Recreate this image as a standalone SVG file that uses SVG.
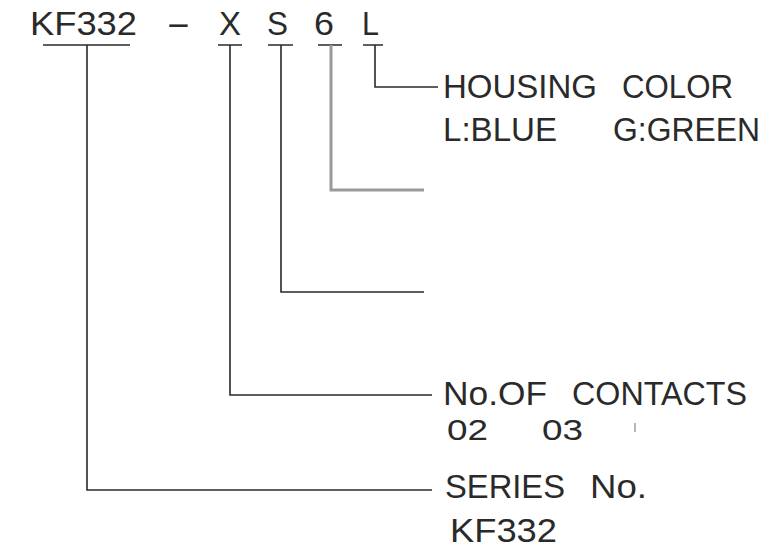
<svg xmlns="http://www.w3.org/2000/svg" width="773" height="550" viewBox="0 0 773 550">
<style>
text{font-family:"Liberation Sans",Arial,sans-serif;fill:#2a2a2a;font-size:34px}
.s{font-size:30px}
.c{fill:none;stroke:#2a2a2a;stroke-width:1.6}
.g{fill:none;stroke:#9a9a9a;stroke-width:3}
</style>
<rect width="773" height="550" fill="#fff"/>
<g id="code">
<text x="30" y="35" textLength="107" lengthAdjust="spacingAndGlyphs">KF332</text>
<text x="166" y="35" textLength="25" lengthAdjust="spacingAndGlyphs">-</text>
<text x="219" y="35" textLength="22" lengthAdjust="spacingAndGlyphs">X</text>
<text x="267" y="35" textLength="21" lengthAdjust="spacingAndGlyphs">S</text>
<text x="314" y="35" textLength="20" lengthAdjust="spacingAndGlyphs">6</text>
<text x="362" y="35" textLength="17" lengthAdjust="spacingAndGlyphs">L</text>
</g>
<g id="connectors">
<path class="c" d="M43 45H130M218 45H242M268 45H293M318 45H342M363 45H383"/>
<path class="c" d="M375 45V87H438"/>
<path class="g" d="M331 45V190H424"/>
<path class="c" d="M281 45V292H424"/>
<path class="c" d="M230 45V395H432"/>
<path class="c" d="M87 45V490H432"/>
</g>
<g id="housing">
<text x="443" y="98" textLength="154" lengthAdjust="spacingAndGlyphs">HOUSING</text>
<text x="622" y="98" textLength="111" lengthAdjust="spacingAndGlyphs">COLOR</text>
<text x="443" y="141" textLength="114" lengthAdjust="spacingAndGlyphs">L:BLUE</text>
<text x="613" y="141" textLength="147" lengthAdjust="spacingAndGlyphs">G:GREEN</text>
</g>
<g id="contacts">
<text x="443" y="405" textLength="104" lengthAdjust="spacingAndGlyphs">No.OF</text>
<text x="572" y="405" textLength="175" lengthAdjust="spacingAndGlyphs">CONTACTS</text>
<text class="s" x="447" y="440" textLength="41" lengthAdjust="spacingAndGlyphs">02</text>
<text class="s" x="542" y="440" textLength="41" lengthAdjust="spacingAndGlyphs">03</text>
<path d="M635 423V432" stroke="#888" stroke-width="1.2"/>
</g>
<g id="series">
<text x="445" y="498" textLength="120" lengthAdjust="spacingAndGlyphs">SERIES</text>
<text x="590" y="498" textLength="57" lengthAdjust="spacingAndGlyphs">No.</text>
<text x="450" y="542" textLength="107" lengthAdjust="spacingAndGlyphs">KF332</text>
</g>
</svg>
